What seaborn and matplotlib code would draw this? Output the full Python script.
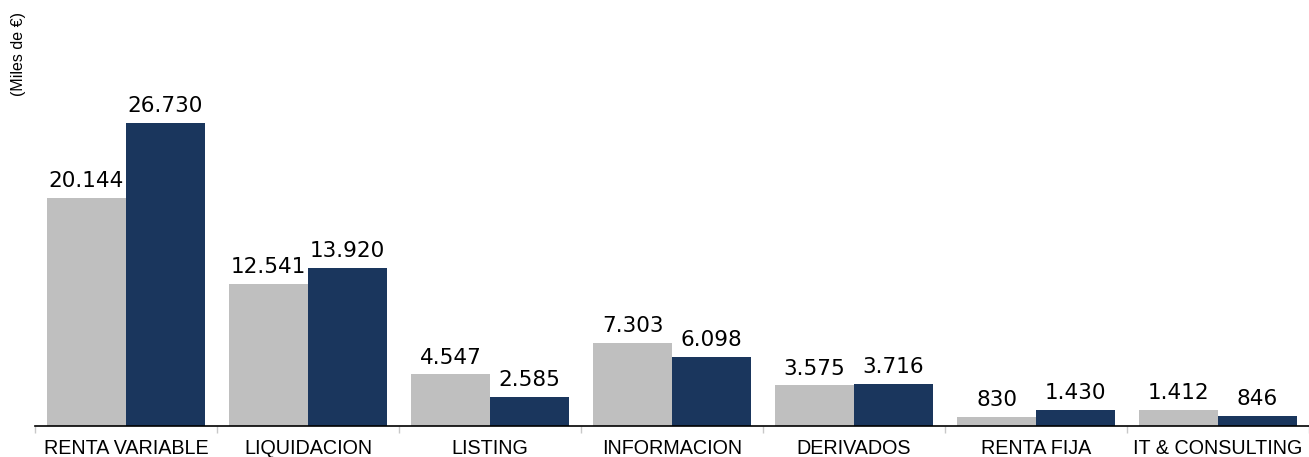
import pandas as pd
import matplotlib.pyplot as plt
import seaborn as sns

# datos
categorias = ["RENTA VARIABLE", "LIQUIDACION", "LISTING", "INFORMACION",
              "DERIVADOS", "RENTA FIJA", "IT & CONSULTING"]
serie_gris = [20144, 12541, 4547, 7303, 3575, 830, 1412]
serie_azul = [26730, 13920, 2585, 6098, 3716, 1430, 846]
series = ["Anterior", "Actual"]

df = pd.DataFrame({
    "categoria": categorias * 2,
    "valor": serie_gris + serie_azul,
    "serie": [series[0]] * len(categorias) + [series[1]] * len(categorias),
})

sns.set_style("white")
plt.rcParams["text.color"] = "black"
plt.rcParams["xtick.color"] = "black"

fig = plt.figure(figsize=(13.09, 4.57), dpi=100)
ax = fig.add_axes([35 / 1309, 31 / 457, 1 - 35 / 1309, (426 - 8) / 457])

sns.barplot(data=df, x="categoria", y="valor", hue="serie",
            palette=["#BFBFBF", "#1A365D"], width=0.868, ax=ax,
            legend=False, saturation=1, linewidth=0)

for cont in ax.containers:
    ax.bar_label(cont, labels=[f"{v:,.0f}".replace(",", ".") for v in cont.datavalues],
                 padding=5, fontsize=15.5, family="DejaVu Sans", color="black")

ax.set_xlim(-0.5, len(categorias) - 0.5)
ax.set_ylim(0, 418 / (303 / 26730))
ax.set_yticks([])
ax.set_ylabel("")
ax.set_xlabel("")
for s in ["top", "right", "left"]:
    ax.spines[s].set_visible(False)
ax.spines["bottom"].set_color("black")
ax.spines["bottom"].set_linewidth(1.2)

ax.set_xticks(range(len(categorias)))
ax.set_xticklabels(categorias, family="Liberation Sans", fontsize=14.2, color="black")
ax.tick_params(axis="x", which="major", length=0, pad=9.5)
ax.set_xticks([i + 0.5 for i in range(-1, len(categorias))], minor=True)
ax.tick_params(axis="x", which="minor", bottom=True, length=5, color="#C8C8C8", width=1)

fig.text(19 / 1309, 1 - 54 / 457, "(Miles de €)", rotation=90, ha="center", va="center",
         family="Liberation Sans", fontsize=11.5, color="black")

fig.savefig("out.png", dpi=100)
